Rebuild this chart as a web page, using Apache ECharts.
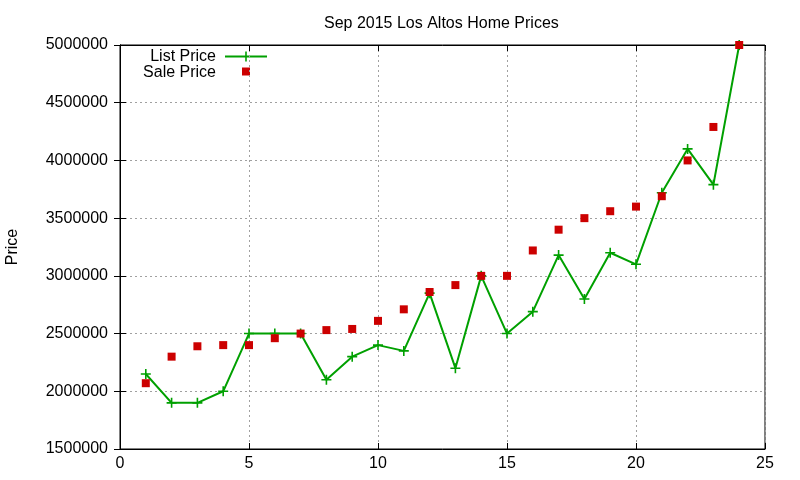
<!DOCTYPE html>
<html>
<head>
<meta charset="utf-8">
<script src="https://cdn.jsdelivr.net/npm/echarts@6/dist/echarts.min.js"></script>
<style>html,body{margin:0;padding:0;background:#fff}#c{width:800px;height:480px}</style>
</head>
<body>
<div id="c"></div>
<script>
const months = [1,2,3,4,5,6,7,8,9,10,11,12,13,14,15,16,17,18,19,20,21,22,23,24];
const listPrice = [2150000,1900000,1900000,2000000,2500000,2500000,2500000,2100000,2300000,2400000,2350000,2850000,2200000,3000000,2500000,2690000,3180000,2800000,3200000,3100000,3720000,4100000,3790000,5000000];
const salePrice = [2070000,2300000,2390000,2400000,2400000,2460000,2500000,2530000,2540000,2610000,2710000,2860000,2920000,3000000,3000000,3220000,3400000,3500000,3560000,3600000,3690000,4000000,4290000,5000000];
const xTicks = {min:0, max:25, interval:5};
const yTicks = {min:1500000, max:5000000, interval:500000};

const FONT = 'Liberation Sans, Arial, sans-serif';
const plus = 'path://M0,4.2h10v1.6h-10z M4.2,0h1.6v10h-1.6z';
const chart = echarts.init(document.getElementById('c'), null, {renderer:'canvas'});
const tickStyle = {inside:true, length:6, lineStyle:{color:'#000', width:1}};
const gridLine = {show:true, lineStyle:{color:'#a0a0a0', type:[2,3], width:1}};
chart.setOption({
  animation:false,
  backgroundColor:'#fff',
  textStyle:{fontFamily:FONT},
  title:{text:'Sep 2015 Los Altos Home Prices', left:319, top:11,
    textStyle:{fontFamily:FONT, fontSize:16, fontWeight:'normal', color:'#000'}},
  grid:{left:120, right:35, top:45, bottom:31, show:true, borderColor:'#000', borderWidth:1,
    containLabel:false, outerBoundsMode:'none'},
  xAxis:[{type:'value', min:xTicks.min, max:xTicks.max, interval:xTicks.interval, position:'bottom',
    axisLine:{show:true, lineStyle:{color:'#000'}}, axisTick:tickStyle,
    axisLabel:{fontFamily:FONT, fontSize:16, color:'#000', margin:7},
    splitLine:gridLine},
   {type:'value', min:xTicks.min, max:xTicks.max, interval:xTicks.interval, position:'top',
    axisLine:{show:true, lineStyle:{color:'#000'}}, axisTick:tickStyle, axisLabel:{show:false}, splitLine:{show:false}}],
  yAxis:[{type:'value', min:yTicks.min, max:yTicks.max, interval:yTicks.interval, position:'left',
    name:'Price', nameLocation:'middle', nameRotate:90, nameGap:99,
    nameTextStyle:{fontFamily:FONT, fontSize:16, color:'#000'},
    axisLine:{show:true, lineStyle:{color:'#000'}}, axisTick:tickStyle,
    axisLabel:{fontFamily:FONT, fontSize:16, color:'#000', margin:12, formatter:v=>String(v)},
    splitLine:gridLine},
   {type:'value', min:yTicks.min, max:yTicks.max, interval:yTicks.interval, position:'right',
    axisLine:{show:true, lineStyle:{color:'#000'}}, axisTick:tickStyle, axisLabel:{show:false}, splitLine:{show:false}}],
  series:[
    {name:'List Price', type:'line', data:months.map((m,i)=>[m,listPrice[i]]),
     symbol:plus, symbolSize:10, showAllSymbol:true,
     lineStyle:{color:'#00a000', width:2}, itemStyle:{color:'#00a000'}, z:2},
    {name:'Sale Price', type:'scatter', data:months.map((m,i)=>[m,salePrice[i]]),
     symbol:'rect', symbolSize:8, itemStyle:{color:'#cc0000', opacity:1}, z:3}
  ],
  graphic:[
    {type:'text', x:216, y:49, style:{text:'List Price', font:'16px '+FONT, fill:'#000', textAlign:'right'}},
    {type:'line', shape:{x1:225,y1:56.5,x2:267,y2:56.5}, style:{stroke:'#00a000', lineWidth:2}},
    {type:'rect', shape:{x:245.2,y:51.5,width:1.6,height:10}, style:{fill:'#00a000'}},
    {type:'text', x:216, y:65, style:{text:'Sale Price', font:'16px '+FONT, fill:'#000', textAlign:'right'}},
    {type:'rect', shape:{x:242,y:67.5,width:8,height:8}, style:{fill:'#cc0000'}}
  ]
});
</script>
</body>
</html>
